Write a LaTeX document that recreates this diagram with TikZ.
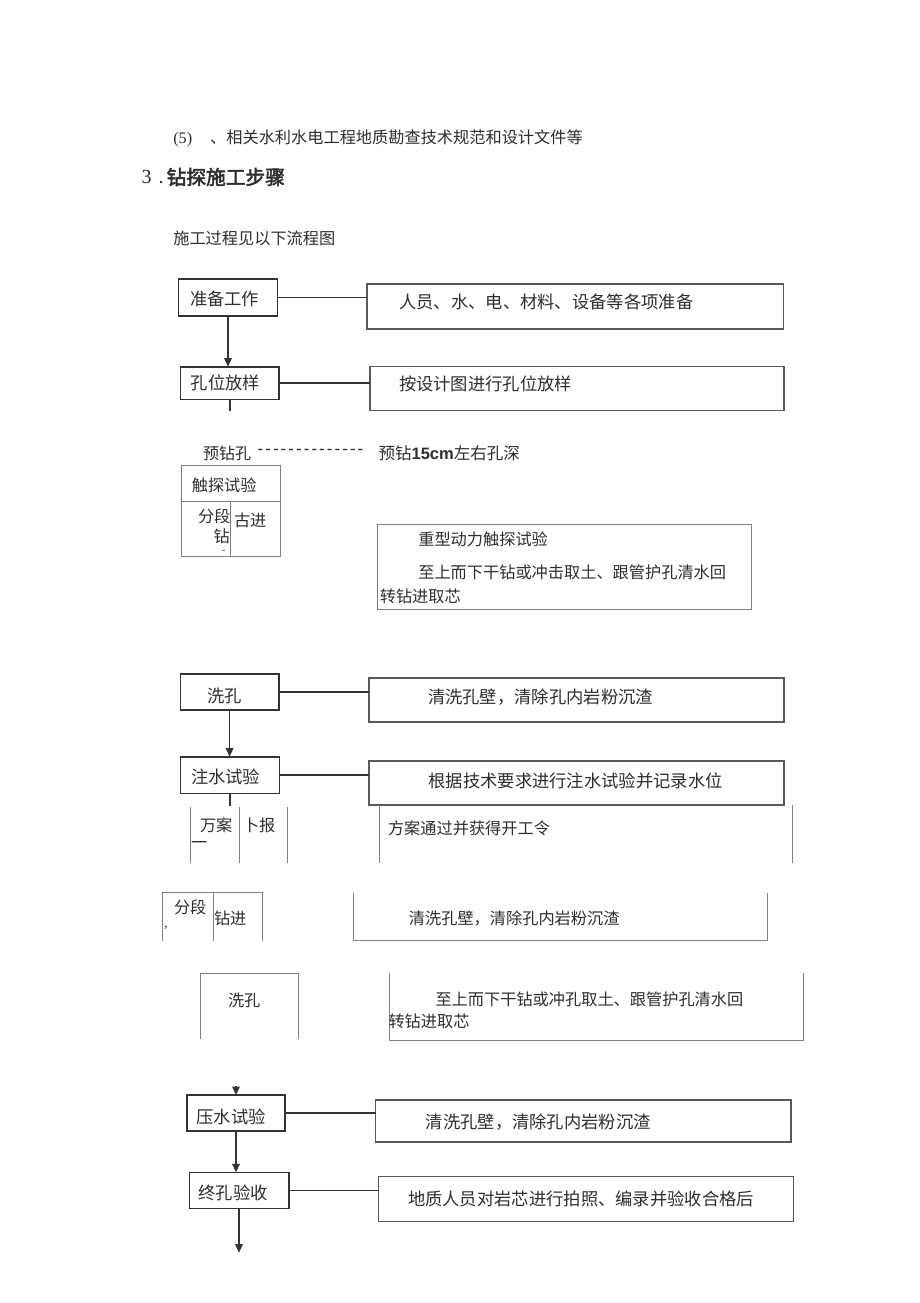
\documentclass[tikz,border=0pt]{standalone}
\usepackage{fontspec}
\setmainfont{Liberation Serif}
\newfontfamily\cjk{Noto Sans CJK SC}
\newfontfamily\cjkhead[FakeBold=2.5]{Noto Sans CJK SC}
\newfontfamily\arialf{Liberation Sans}
\usetikzlibrary{arrows.meta}
\definecolor{ink}{gray}{0.18}
\definecolor{edge}{gray}{0.2}
\definecolor{rim}{gray}{0.35}
\definecolor{faint}{gray}{0.5}
\begin{document}
\begin{tikzpicture}[x=1pt,y=-1pt,
  every node/.style={inner sep=0pt, outer sep=0pt, text=ink},
  txt/.style={anchor=west, font=\cjk\fontsize{17.3}{17.3}\selectfont},
  txs/.style={anchor=west, font=\cjk\fontsize{16.2}{16.2}\selectfont},
  lbox/.style={draw=edge, line width=1.6pt, anchor=north west},
  rbox/.style={draw=rim, line width=1.3pt, anchor=north west},
  tline/.style={draw=faint, line width=0.8pt},
  link/.style={draw=edge, line width=1.5pt},
  flow/.style={link, -{Triangle[length=8.5pt,width=7.5pt]}}]
\fill[white] (0,0) rectangle (920,1303);
\useasboundingbox (0,0) rectangle (920,1303);

% header texts
\node[txs] (ref5) at (173.3,138.3) {{\rmfamily (5)}\hspace{18pt}、相关水利水电工程地质勘查技术规范和设计文件等};
\node[anchor=west, font=\rmfamily\fontsize{20}{20}\selectfont] (hnum) at (141.7,177) {3\hspace{7pt}.};
\node[anchor=west, font=\cjkhead\fontsize{19.7}{19.7}\selectfont] (htitle) at (166.7,177) {钻探施工步骤};
\node[txs] (intro) at (173.3,238.3) {施工过程见以下流程图};

% step 1
\node[lbox, minimum width=99pt, minimum height=37pt] (prep) at (178.5,279) {};
\node[txt] (prepT) at (190,298.5) {准备工作};
\node[rbox, minimum width=416.6pt, minimum height=45pt] (prepR) at (367,284) {};
\node[txt] (prepRT) at (399.2,301.5) {人员、水、电、材料、设备等各项准备};
\draw[link] (prep.east) -- (prep.east -| prepR.west);

% step 2
\node[lbox, minimum width=98.5pt, minimum height=32.6pt] (pos) at (180.5,366.7) {};
\node[txt] (posT) at (190.8,382.7) {孔位放样};
\node[rbox, minimum width=414pt, minimum height=44pt] (posR) at (370,366.7) {};
\node[txt] (posRT) at (399,384) {按设计图进行孔位放样};
\draw[link] (pos.east) -- (pos.east -| posR.west);
\draw[flow] (prep.south) -- (prep.south |- pos.north);
\coordinate (posStub) at (229.75,411);
\draw[link] (pos.south) -- (pos.south |- posStub);

% pre-drilling
\node[anchor=west, font=\cjk\fontsize{16}{16}\selectfont] (pre) at (203,453) {预钻孔};
\node[anchor=west, font=\arialf\fontsize{17}{17}\selectfont] (dash) at (256.6,452) {\hbox to 108pt{\leaders\hbox to 7.7pt{\hss-\hss}\hfill}};
\node[anchor=west, font=\cjk\fontsize{16.5}{16.5}\selectfont] (preR) at (378.6,453) {预钻{\arialf\bfseries 15cm}左右孔深};

% probe table
\draw[tline] (181,465) rectangle (280,556);
\draw[tline] (181,501.7) -- (280,501.7);
\draw[tline] (230.7,501.7) -- (230.7,556);
\node[txs] (probe) at (191.8,485) {触探试验};
\node[txs] (seg1) at (198,516) {分段};
\node[txs] (seg2) at (213.5,536.7) {钻};
\node[txs] (seg3) at (234,520) {古进};
\node[anchor=west, font=\arialf\fontsize{10}{10}\selectfont] (tick) at (222,552) {-};
\node[rbox, draw=faint, line width=1pt, minimum width=374pt, minimum height=85pt] (probeR) at (377.4,524) {};
\node[txs] (probeR1) at (418.3,539) {重型动力触探试验};
\node[txs] (probeR2) at (418.3,572.7) {至上而下干钻或冲击取土、跟管护孔清水回};
\node[txs] (probeR3) at (379.8,596.7) {转钻进取芯};

% wash hole
\node[lbox, minimum width=98.2pt, minimum height=36pt] (wash) at (180.5,674) {};
\node[txt] (washT) at (207,696) {洗孔};
\node[rbox, minimum width=415pt, minimum height=44pt] (washR) at (369,678) {};
\node[txt] (washRT) at (428,697) {清洗孔壁，清除孔内岩粉沉渣};
\draw[link, line width=2.6pt] (wash.east) -- (wash.east -| washR.west);

% water injection
\node[lbox, minimum width=99pt, minimum height=36.6pt] (inj) at (180.5,756.7) {};
\node[txt] (injT) at (191,777) {注水试验};
\node[rbox, minimum width=415pt, minimum height=44pt] (injR) at (369,761) {};
\node[txt] (injRT) at (428.5,781) {根据技术要求进行注水试验并记录水位};
\draw[link] (inj.east) -- (inj.east -| injR.west);
\draw[flow] (wash.south) -- (wash.south |- inj.north);
\coordinate (injStub) at (231,806);
\draw[link] (inj.south) -- (inj.south |- injStub);

% plan report
\draw[tline] (190,807) -- (190,863);
\draw[tline] (239,807) -- (239,863);
\draw[tline] (287,807) -- (287,863);
\node[txs] (plan1) at (200,825) {万案};
\node[txs] (plan2) at (191,845) {一};
\node[txs] (plan3) at (243,825) {卜报};
\draw[tline] (379,805) -- (379,863);
\draw[tline] (792,805) -- (792,863);
\node[txs] (planR) at (388,828) {方案通过并获得开工令};

% segment drilling
\draw[tline] (162.7,940.7) -- (162.7,892.7) -- (262,892.7) -- (262,940.7);
\draw[tline] (213.5,892.7) -- (213.5,940.7);
\node[txs] (sd1) at (174,907) {分段};
\node[anchor=west, font=\rmfamily\fontsize{14}{14}\selectfont] (sd2) at (164,928) {,};
\node[txs] (sd3) at (214,918) {钻进};
\draw[tline] (353,892.7) -- (353,940.7) -- (767.6,940.7) -- (767.6,892.7);
\node[txs] (sdR) at (408.9,918) {清洗孔壁，清除孔内岩粉沉渣};

% second wash
\draw[tline] (200,1039) -- (200,973) -- (298,973) -- (298,1039);
\node[txs] (w2) at (228,1000) {洗孔};
\draw[tline] (389,973) -- (389,1040) -- (803.6,1040) -- (803.6,973);
\node[txs] (w2R1) at (435.5,999) {至上而下干钻或冲孔取土、跟管护孔清水回};
\node[txs] (w2R2) at (388.5,1021.7) {转钻进取芯};

% pressure test
\node[lbox, minimum width=98pt, minimum height=35.7pt] (pres) at (187,1095) {};
\node[txt] (presT) at (196.5,1117) {压水试验};
\node[rbox, minimum width=415.5pt, minimum height=42pt] (presR) at (375.5,1100) {};
\node[txt] (presRT) at (425.8,1121.7) {清洗孔壁，清除孔内岩粉沉渣};
\draw[link] (pres.east) -- (pres.east -| presR.west);
\coordinate (presIn) at (236,1086);
\draw[flow] (pres.north |- presIn) -- (pres.north);

% final acceptance
\node[lbox, minimum width=99.4pt, minimum height=36pt] (fin) at (189.3,1172.3) {};
\node[txt] (finT) at (198.6,1192.7) {终孔验收};
\node[rbox, minimum width=415.4pt, minimum height=45pt] (finR) at (378.4,1176.7) {};
\node[txt] (finRT) at (408,1199) {地质人员对岩芯进行拍照、编录并验收合格后};
\draw[link] (fin.east) -- (fin.east -| finR.west);
\draw[flow] (pres.south) -- (pres.south |- fin.north);
\coordinate (finOut) at (239,1252.7);
\draw[flow] (fin.south) -- (fin.south |- finOut);
\end{tikzpicture}
\end{document}
